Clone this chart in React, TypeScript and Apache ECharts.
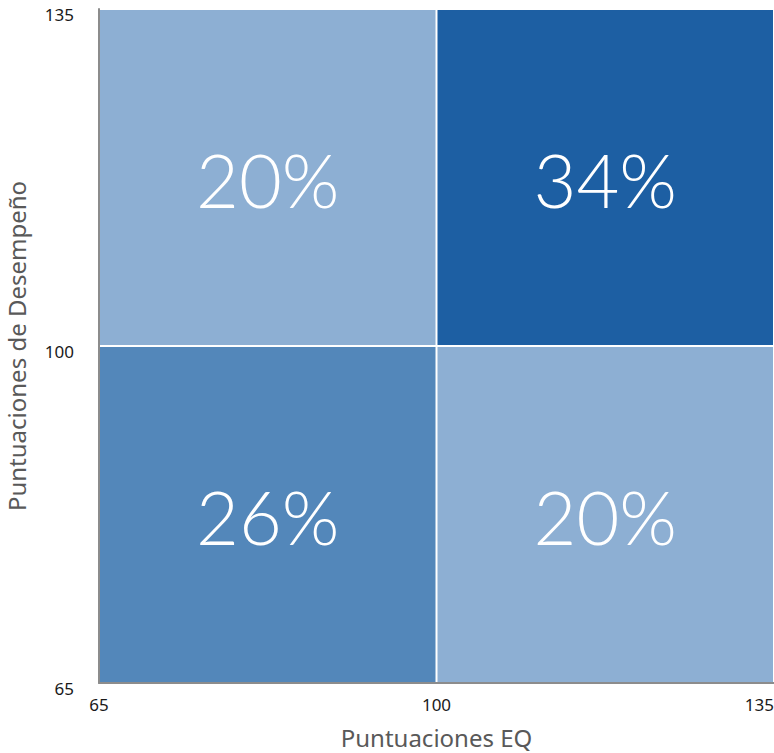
import React, { useEffect, useRef } from "react";
import * as echarts from "echarts";

const axisTicks = [65, 100, 135];
const cellXStart = [65, 100, 65, 100];
const cellXEnd = [100, 135, 100, 135];
const cellYStart = [100, 100, 65, 65];
const cellYEnd = [135, 135, 100, 100];
const cellPercent = [20, 34, 26, 20];
const cellColors = ["#8DAFD3", "#1D5FA3", "#5387BA", "#8DAFD3"];

export default function App() {
  const ref = useRef<HTMLDivElement>(null);
  useEffect(() => {
    if (!ref.current) return;
    const chart = echarts.init(ref.current, null, { renderer: "svg" });
    const data = cellPercent.map((p, i) => [cellXStart[i], cellXEnd[i], cellYStart[i], cellYEnd[i], p, i]);
    const axisFont = { fontFamily: "Noto Sans", fontSize: 17, color: "#1a1a1a" };
    chart.setOption({
      animation: false,
      grid: { left: 99, right: 0, top: 9, bottom: 70, outerBoundsMode: "none", containLabel: false },
      xAxis: {
        type: "value",
        min: 65,
        max: 135,
        name: "Puntuaciones EQ",
        nameLocation: "middle",
        nameGap: 42,
        nameTextStyle: { fontFamily: "Noto Sans", fontSize: 24, color: "#595959" },
        axisLine: { show: true, lineStyle: { color: "#8c8c8c", width: 2 } },
        axisTick: { show: false },
        splitLine: { show: false },
        axisLabel: { ...axisFont, customValues: axisTicks, margin: 13, alignMaxLabel: "right", alignMinLabel: "center" },
      },
      yAxis: {
        type: "value",
        min: 65,
        max: 135,
        name: "Puntuaciones de Desempeño",
        nameLocation: "middle",
        nameGap: 71,
        nameTextStyle: { fontFamily: "Noto Sans", fontSize: 24, color: "#595959" },
        axisLine: { show: true, lineStyle: { color: "#8c8c8c", width: 2 } },
        axisTick: { show: false },
        splitLine: { show: false },
        axisLabel: { ...axisFont, customValues: axisTicks, margin: 25, verticalAlign: "top", lineHeight: 10 },
      },
      series: [
        {
          type: "custom",
          data,
          z: 1,
          renderItem: (params: any, api: any) => {
            const tl = api.coord([api.value(0), api.value(3)]);
            const br = api.coord([api.value(1), api.value(2)]);
            const idx = api.value(5);
            const x = tl[0] + 1;
            const y = tl[1] + 1;
            const w = br[0] - tl[0] - 2;
            const h = br[1] - tl[1] - 2;
            return {
              type: "group",
              children: [
                { type: "rect", shape: { x, y, width: w, height: h }, style: { fill: cellColors[idx] } },
                {
                  type: "text",
                  x: x + w / 2,
                  y: y + h / 2 + 2,
                  style: {
                    text: api.value(4) + "%",
                    fill: "#ffffff",
                    fontFamily: "Lato",
                    fontWeight: 300,
                    fontSize: 74,
                    align: "center",
                    verticalAlign: "middle",
                  },
                },
              ],
            };
          },
        },
      ],
    });
    return () => chart.dispose();
  }, []);
  return <div ref={ref} style={{ width: 774, height: 753, position: "absolute", left: 0, top: 0 }} />;
}
